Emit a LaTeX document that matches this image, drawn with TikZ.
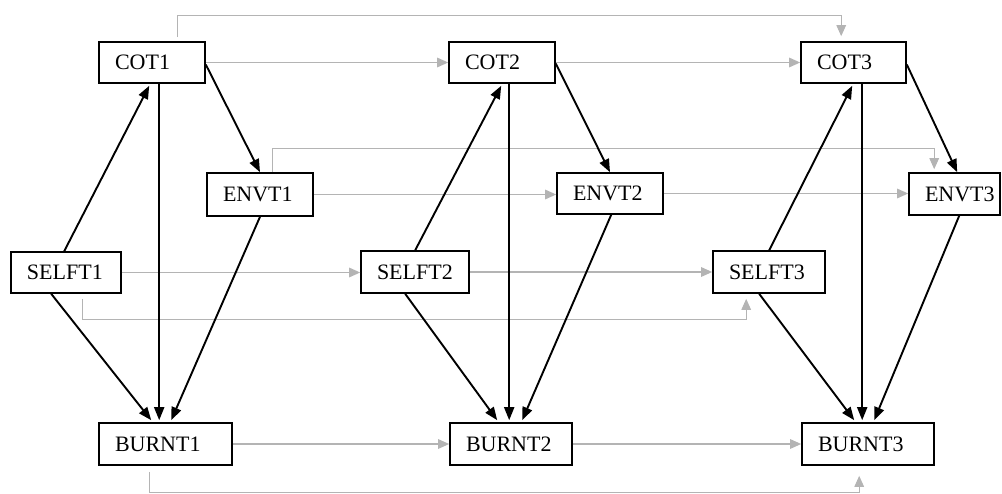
\documentclass[tikz,border=0pt]{standalone}
\usepackage{fontspec}
\setmainfont{Liberation Serif}
\usetikzlibrary{arrows.meta}
\definecolor{edgegray}{RGB}{180,180,180}
\tikzset{
  box/.style={draw=black, line width=1.6pt, inner xsep=16pt, inner ysep=0pt,
    minimum height=41pt, align=left, font=\fontsize{22}{24}\selectfont, anchor=center},
  blk/.style={draw=black, line width=1.9pt, -{Triangle[length=13pt,width=10pt]}},
  gry/.style={draw=edgegray, line width=1.3pt, -{Triangle[length=11pt,width=9.5pt]}},
}
\begin{document}
\begin{tikzpicture}[x=1pt,y=-1pt]
\useasboundingbox (0,0) rectangle (1002,493);
% nodes
\node[box, text width=74pt] (cot1) at (152,62.5) {COT1};
\node[box, text width=74pt] (cot2) at (502,62.5) {COT2};
\node[box, text width=73pt] (cot3) at (853.5,62.5) {COT3};
\node[box, text width=74pt, minimum height=43pt] (envt1) at (260,194.5) {ENVT1};
\node[box, text width=74pt] (envt2) at (610,193.5) {ENVT2};
\node[box, text width=59pt, minimum height=42pt] (envt3) at (954.5,194) {ENVT3};
\node[box, text width=78pt] (selft1) at (66,272.5) {SELFT1};
\node[box, text width=76pt, minimum height=42pt] (selft2) at (415,272) {SELFT2};
\node[box, text width=80pt, minimum height=42pt] (selft3) at (769,272) {SELFT3};
\node[box, text width=101pt, minimum height=42pt] (burnt1) at (165.5,444) {BURNT1};
\node[box, text width=90pt, minimum height=42pt] (burnt2) at (511,444) {BURNT2};
\node[box, text width=100pt, minimum height=42pt] (burnt3) at (868,444) {BURNT3};
% gray edges
\draw[gry] (cot1.east) -- (cot2.west);
\draw[gry] (cot2.east) -- (cot3.west);
\draw[gry] (envt1.east) -- (envt1.east -| envt2.west);
\draw[gry] (envt2.east) -- (envt2.east -| envt3.west);
\draw[gry] (selft1.east) -- (selft1.east -| selft2.west);
\draw[gry] (selft2.east) -- (selft2.east -| selft3.west);
\draw[gry] (burnt1.east) -- (burnt2.west);
\draw[gry] (burnt2.east) -- (burnt3.west);
\draw[gry] ([xshift=79pt,yshift=4pt]cot1.north west) -- ++(0,-22) -| ([xshift=41pt,yshift=5pt]cot3.north west);
\draw[gry] ([xshift=66pt]envt1.north west) -- ++(0,-24) -| ([xshift=26pt,yshift=3pt]envt3.north west);
\draw[gry] ([xshift=72pt,yshift=-5pt]selft1.south west) -- ++(0,21) -| ([xshift=34pt,yshift=-5pt]selft3.south west);
\draw[gry] ([xshift=51pt,yshift=-6pt]burnt1.south west) -- ++(0,21) -| ([xshift=58pt,yshift=-10pt]burnt3.south west);
% black edges, group 1
\draw[blk] ([xshift=54pt]selft1.north west) -- ([xshift=51pt,yshift=-2pt]cot1.south west);
\draw[blk] ([xshift=61pt]cot1.south west) -- ([xshift=61pt,yshift=2pt]burnt1.north west);
\draw[blk] ([yshift=-2pt]cot1.east) -- (envt1.north);
\draw[blk] (envt1.south) -- ([xshift=73pt,yshift=2pt]burnt1.north west);
\draw[blk] ([xshift=41pt]selft1.south west) -- ([xshift=53pt,yshift=2pt]burnt1.north west);
% group 2
\draw[blk] ([xshift=55pt]selft2.north west) -- ([xshift=53pt,yshift=-2pt]cot2.south west);
\draw[blk] ([xshift=61pt]cot2.south west) -- ([xshift=60pt,yshift=2pt]burnt2.north west);
\draw[blk] ([yshift=-1pt]cot2.east) -- (envt2.north);
\draw[blk] ([xshift=55pt]envt2.south west) -- ([xshift=73pt,yshift=2pt]burnt2.north west);
\draw[blk] ([xshift=45pt]selft2.south west) -- ([xshift=48pt,yshift=2pt]burnt2.north west);
% group 3
\draw[blk] ([xshift=57pt]selft3.north west) -- ([xshift=52pt,yshift=-2pt]cot3.south west);
\draw[blk] ([xshift=62pt]cot3.south west) -- ([xshift=61pt,yshift=2pt]burnt3.north west);
\draw[blk] ([yshift=-2pt]cot3.east) -- ([xshift=49pt]envt3.north west);
\draw[blk] ([xshift=51pt]envt3.south west) -- ([xshift=73pt,yshift=2pt]burnt3.north west);
\draw[blk] ([xshift=47pt]selft3.south west) -- ([xshift=53pt,yshift=2pt]burnt3.north west);
\end{tikzpicture}
\end{document}
